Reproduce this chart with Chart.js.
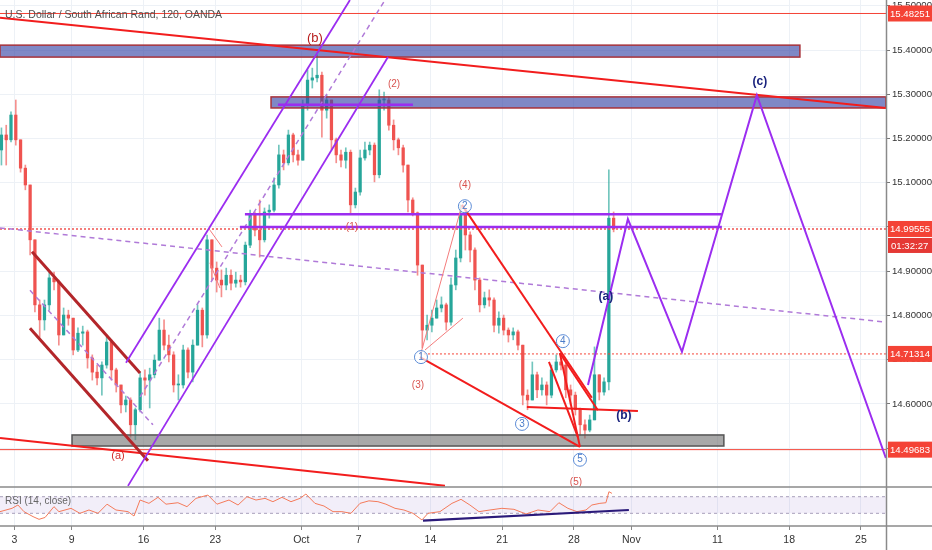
<!DOCTYPE html>
<html>
<head>
<meta charset="utf-8">
<title>USDZAR 120</title>
<script src="https://cdn.jsdelivr.net/npm/chart.js@4.4.0/dist/chart.umd.min.js"></script>
<style>
  html, body { margin: 0; padding: 0; background: #fff; }
  canvas { display: block; }
</style>
</head>
<body>
<canvas id="usdzar" width="932" height="550"></canvas>
<script>
// x axis is in trading days (weekends removed), one candle = 1/3 day
var xTickPos = [1, 5, 10, 15, 21, 25, 30, 35, 40, 44, 50, 55, 60];
var xTickLabels = ['3', '9', '16', '23', 'Oct', '7', '14', '21', '28', 'Nov', '11', '18', '25'];
var priceTicks = [14.5, 14.6, 14.7, 14.8, 14.9, 15.0, 15.1, 15.2, 15.3, 15.4, 15.5];

// candles, open = previous close
var firstOpen = 15.174;
var closes = [15.208, 15.197, 15.253, 15.197, 15.133, 15.095, 14.971, 14.824, 14.790, 14.824,
  14.885, 14.876, 14.756, 14.801, 14.794, 14.722, 14.760, 14.763, 14.704, 14.672,
  14.659, 14.688, 14.740, 14.677, 14.643, 14.598, 14.609, 14.553, 14.587, 14.659,
  14.654, 14.666, 14.699, 14.767, 14.733, 14.711, 14.643, 14.643, 14.722, 14.672,
  14.733, 14.812, 14.756, 14.971, 14.907, 14.880, 14.869, 14.891, 14.873, 14.880,
  14.876, 14.959, 15.027, 14.993, 14.971, 15.034, 15.038, 15.095, 15.163, 15.145,
  15.208, 15.163, 15.151, 15.276, 15.332, 15.337, 15.343, 15.264, 15.287, 15.197,
  15.163, 15.151, 15.169, 15.050, 15.079, 15.156, 15.174, 15.185, 15.118, 15.287,
  15.287, 15.230, 15.197, 15.179, 15.140, 15.061, 15.032, 14.914, 14.767, 14.778,
  14.794, 14.817, 14.824, 14.785, 14.869, 14.930, 15.027, 14.982, 14.948, 14.880,
  14.824, 14.840, 14.835, 14.778, 14.794, 14.767, 14.756, 14.763, 14.733, 14.620,
  14.609, 14.666, 14.632, 14.643, 14.620, 14.677, 14.695, 14.688, 14.632, 14.620,
  14.587, 14.553, 14.541, 14.564, 14.666, 14.627, 14.650, 15.020, 14.99555];
var highs = [15.224, 15.230, 15.260, 15.287, 15.197, 15.140, 15.095, 14.971, 14.835, 14.835,
  14.898, 14.898, 14.880, 14.817, 14.812, 14.794, 14.772, 14.776, 14.767, 14.711,
  14.688, 14.695, 14.751, 14.745, 14.681, 14.643, 14.618, 14.614, 14.591, 14.672,
  14.677, 14.681, 14.711, 14.794, 14.790, 14.756, 14.718, 14.666, 14.733, 14.727,
  14.745, 14.824, 14.817, 14.982, 14.971, 14.921, 14.903, 14.907, 14.903, 14.898,
  14.891, 14.966, 15.038, 15.034, 15.061, 15.043, 15.050, 15.111, 15.185, 15.174,
  15.219, 15.212, 15.174, 15.287, 15.355, 15.359, 15.389, 15.350, 15.298, 15.287,
  15.201, 15.174, 15.179, 15.174, 15.088, 15.174, 15.192, 15.192, 15.190, 15.310,
  15.305, 15.294, 15.242, 15.201, 15.185, 15.140, 15.066, 15.034, 14.914, 14.801,
  14.812, 14.835, 14.842, 14.828, 14.885, 14.948, 15.050, 15.038, 14.989, 14.953,
  14.885, 14.853, 14.858, 14.840, 14.808, 14.801, 14.772, 14.772, 14.767, 14.733,
  14.632, 14.695, 14.672, 14.659, 14.650, 14.688, 14.711, 14.704, 14.695, 14.643,
  14.627, 14.591, 14.564, 14.575, 14.729, 14.666, 14.659, 15.129, 15.034];
var lows = [15.140, 15.140, 15.192, 15.185, 15.124, 15.084, 14.937, 14.808, 14.751, 14.767,
  14.812, 14.858, 14.733, 14.756, 14.778, 14.711, 14.718, 14.733, 14.681, 14.654,
  14.643, 14.620, 14.681, 14.654, 14.627, 14.580, 14.582, 14.525, 14.519, 14.582,
  14.620, 14.591, 14.659, 14.699, 14.722, 14.695, 14.627, 14.609, 14.636, 14.659,
  14.650, 14.733, 14.729, 14.749, 14.880, 14.853, 14.842, 14.858, 14.858, 14.864,
  14.864, 14.869, 14.953, 14.980, 14.932, 14.966, 15.020, 15.034, 15.088, 15.129,
  15.140, 15.147, 15.140, 15.151, 15.264, 15.314, 15.328, 15.203, 15.246, 15.174,
  15.145, 15.136, 15.133, 15.032, 15.043, 15.072, 15.151, 15.163, 15.102, 15.111,
  15.264, 15.219, 15.174, 15.163, 15.124, 15.034, 15.025, 14.891, 14.727, 14.745,
  14.763, 14.794, 14.808, 14.767, 14.778, 14.858, 14.921, 14.948, 14.921, 14.858,
  14.808, 14.817, 14.821, 14.763, 14.760, 14.756, 14.740, 14.745, 14.722, 14.598,
  14.587, 14.609, 14.614, 14.620, 14.598, 14.614, 14.672, 14.677, 14.614, 14.598,
  14.575, 14.530, 14.523, 14.537, 14.564, 14.609, 14.620, 14.632, 14.989];

// RSI (14, close)
var rsiDays = [0, 0.84, 1.25, 1.67, 2.3, 2.72, 3.14, 3.76, 4.11, 4.95,
  5.57, 6.2, 6.83, 7.46, 8.08, 8.92, 9.34, 9.76, 10.38, 11.01,
  11.57, 12.4, 13.03, 13.66, 14.49, 15.12, 15.96, 16.59, 17.21, 17.84,
  18.47, 19.02, 19.65, 20.28, 20.91, 21.32, 21.95, 22.58, 23.21, 23.83,
  24.46, 25.09, 25.71, 26.34, 26.9, 27.53, 28.15, 28.78, 29.41, 29.83,
  30.66, 31.5, 32.13, 32.75, 33.38, 34.15, 34.98, 35.82, 36.66, 37.49,
  38.33, 38.95, 39.58, 40.21, 40.84, 41.25, 41.81, 42.23, 42.44, 42.65];
var rsiValues = [34, 42, 50, 34, 22, 15.5, 20, 46, 34, 42,
  30, 38, 30, 52, 38, 34, 23.5, 62, 54, 68.5,
  52, 55.5, 46, 66, 74, 52, 62, 50, 70, 62,
  66, 58, 68.5, 58, 66, 76.5, 54, 47.6, 34, 34,
  30, 54, 60, 58, 52, 42, 38, 30, 14, 30,
  34, 54, 63.7, 50, 34, 38, 42, 39.6, 28.3, 38,
  34, 55.5, 42, 34, 38, 50, 54, 55.5, 82, 78];
var rsiBand = [30, 70];
var rsiTrend = [[29.48, 12.2], [43.83, 38]];

// drawings on the price pane, points are [day, price]
var trendDown = [[0, 15.473], [61.74, 15.269]];
var trendBase = [[0, 14.523], [31.01, 14.415]];
var zoneTop = [[0, 15.411], [55.75, 15.384]];
var zoneMid = [[18.89, 15.294], [61.74, 15.269]];
var zoneLow = [[5.02, 14.530], [50.45, 14.505]];
var purpleFlat = [
  [[19.37, 15.276], [28.78, 15.276]],
  [[17.07, 15.029], [50.31, 15.029]],
  [[16.72, 15.000], [50.31, 15.000]]
];
var slopeDashed = [[0, 14.998], [61.74, 14.785]];
var channelUp = [
  [[8.78, 14.693], [24.39, 15.513]],
  [[8.92, 14.415], [27.04, 15.384]]
];
var channelUpMid = [[9.76, 14.616], [26.83, 15.513]];
var channelDown = [
  [[2.23, 14.944], [9.76, 14.670]],
  [[2.09, 14.771], [10.31, 14.472]]
];
var channelDownMid = [[2.09, 14.857], [10.66, 14.553]];
var waveThick = [
  [[32.2, 15.050], [41.25, 14.614]],
  [[39.02, 14.715], [40.42, 14.503]],
  [[38.26, 14.695], [40.28, 14.525]],
  [[39.02, 14.715], [41.67, 14.586]],
  [[29.27, 14.706], [40.42, 14.503]],
  [[36.72, 14.593], [44.46, 14.584]]
];
var waveThin = [
  [[29.34, 14.715], [32.2, 15.050]],
  [[29.62, 14.722], [32.26, 14.794]],
  [[14.63, 14.993], [15.47, 14.955]],
  [[14.63, 14.919], [15.33, 14.862]]
];
var projection = [[40.98, 14.643], [43.76, 15.018], [47.53, 14.718], [52.75, 15.298], [61.74, 14.478]];

var redLabels = [['(b)', 21.95, 15.427], ['(2)', 27.46, 15.323], ['(1)', 24.53, 15.0], ['(4)', 32.4, 15.095],
  ['(3)', 29.13, 14.643], ['(5)', 40.14, 14.424], ['(a)', 8.22, 14.483]];
var circleLabels = [['1', 29.34, 14.706], ['2', 32.4, 15.047], ['3', 36.38, 14.555], ['4', 39.23, 14.742], ['5', 40.42, 14.474]];
var navyLabels = [['(a)', 42.23, 14.842], ['(b)', 43.48, 14.573], ['(c)', 52.96, 15.328]];

var lineHigh = 15.48251, lastPrice = 14.99555, pivotPrice = 14.71314, lineLow = 14.49683;
var pivotFrom = 29.27;
var priceTags = [15.48251, 14.99555, 14.71314, 14.49683];
var countdown = '01:32:27';
var title = 'U.S. Dollar / South African Rand, 120, OANDA';

var FONT = "'Liberation Sans', Arial, sans-serif";
var purple = '#9b2df0';

var candleX0 = 0.1, candleStep = 1 / 3;
var opens = closes.map(function (c, i) { return i ? closes[i - 1] : firstOpen; });
var bodies = closes.map(function (c, i) { return { x: candleX0 + i * candleStep, y: [opens[i], c] }; });
var wicks = closes.map(function (c, i) { return { x: candleX0 + i * candleStep, y: [lows[i], highs[i]] }; });
var rsiPoints = rsiDays.map(function (d, i) { return { x: d, y: rsiValues[i] }; });

function candleColor(i, a) {
  return closes[i] >= opens[i] ? 'rgba(38,166,154,' + a + ')' : 'rgba(239,83,80,' + a + ')';
}

function path(c, xs, ys, pts, color, width, dash) {
  c.beginPath();
  pts.forEach(function (p, i) {
    var X = xs.getPixelForValue(p[0]), Y = ys.getPixelForValue(p[1]);
    if (i) c.lineTo(X, Y); else c.moveTo(X, Y);
  });
  c.strokeStyle = color;
  c.lineWidth = width;
  c.setLineDash(dash || []);
  c.stroke();
}

function zone(c, xs, ys, box, fill, edge) {
  var x1 = xs.getPixelForValue(box[0][0]), y1 = ys.getPixelForValue(box[0][1]);
  var x2 = xs.getPixelForValue(box[1][0]), y2 = ys.getPixelForValue(box[1][1]);
  c.fillStyle = fill;
  c.fillRect(x1, y1, x2 - x1, y2 - y1);
  c.strokeStyle = edge;
  c.lineWidth = 1.5;
  c.setLineDash([]);
  c.strokeRect(x1, y1, x2 - x1, y2 - y1);
}

function text(c, xs, ys, t, font, color) {
  c.font = font;
  c.fillStyle = color;
  c.textAlign = 'center';
  c.textBaseline = 'middle';
  c.fillText(t[0], xs.getPixelForValue(t[1]), ys.getPixelForValue(t[2]));
}

var sketch = {
  id: 'sketch',
  beforeDatasetsDraw: function (chart) {
    var c = chart.ctx, a = chart.chartArea, r = chart.scales.yr;
    var y70 = r.getPixelForValue(rsiBand[1]), y30 = r.getPixelForValue(rsiBand[0]);
    c.save();
    c.fillStyle = 'rgba(126, 87, 194, 0.1)';
    c.fillRect(a.left, y70, a.right - a.left, y30 - y70);
    c.strokeStyle = '#a89fba';
    c.lineWidth = 1;
    c.setLineDash([3, 3]);
    [y70, y30].forEach(function (y) {
      c.beginPath(); c.moveTo(a.left, y); c.lineTo(a.right, y); c.stroke();
    });
    c.restore();
  },
  afterDatasetsDraw: function (chart) {
    var c = chart.ctx, a = chart.chartArea, xs = chart.scales.x, ys = chart.scales.y, r = chart.scales.yr;
    var x0 = xs.min, x1 = xs.max;
    c.save();
    c.beginPath();
    c.rect(a.left, ys.top, a.right - a.left, ys.bottom - ys.top);
    c.clip();

    zone(c, xs, ys, zoneTop, 'rgba(60, 75, 168, 0.66)', '#a8323a');
    zone(c, xs, ys, zoneMid, 'rgba(60, 75, 168, 0.66)', '#a8323a');
    zone(c, xs, ys, zoneLow, 'rgba(110, 110, 110, 0.6)', '#555');

    path(c, xs, ys, [[x0, lineHigh], [x1, lineHigh]], '#f44336', 1);
    path(c, xs, ys, [[x0, lineLow], [x1, lineLow]], '#f44336', 1);
    path(c, xs, ys, [[pivotFrom, pivotPrice], [x1, pivotPrice]], '#f44336', 1, [2, 2]);
    path(c, xs, ys, [[x0, lastPrice], [x1, lastPrice]], 'rgba(239, 83, 80, 0.75)', 2, [2, 2]);

    path(c, xs, ys, trendDown, '#f21d1d', 2);
    path(c, xs, ys, trendBase, '#f21d1d', 2);

    channelDown.forEach(function (l) { path(c, xs, ys, l, '#b3262a', 3); });
    path(c, xs, ys, channelDownMid, '#b07ad8', 1.5, [5, 4]);

    channelUp.forEach(function (l) { path(c, xs, ys, l, purple, 1.8); });
    path(c, xs, ys, channelUpMid, '#b07ad8', 1.5, [5, 4]);
    path(c, xs, ys, slopeDashed, '#b07ad8', 1.5, [5, 4]);
    purpleFlat.forEach(function (l) { path(c, xs, ys, l, purple, 2.5); });

    waveThin.forEach(function (l) { path(c, xs, ys, l, '#f47c7c', 1); });
    waveThick.forEach(function (l) { path(c, xs, ys, l, '#f21d1d', 2); });

    path(c, xs, ys, projection, purple, 2);

    redLabels.forEach(function (t, i) {
      if (i === 0) text(c, xs, ys, t, '13px ' + FONT, '#b71c1c');
      else if (i === 6) text(c, xs, ys, t, '11px ' + FONT, '#d32f2f');
      else text(c, xs, ys, t, '10px ' + FONT, '#d9534f');
    });
    circleLabels.forEach(function (t) {
      var X = xs.getPixelForValue(t[1]), Y = ys.getPixelForValue(t[2]);
      c.beginPath();
      c.arc(X, Y, 6.5, 0, Math.PI * 2);
      c.fillStyle = 'rgba(255,255,255,0.7)';
      c.fill();
      c.strokeStyle = '#5b8bd6';
      c.lineWidth = 1;
      c.setLineDash([]);
      c.stroke();
      text(c, xs, ys, t, '10px ' + FONT, '#4a7cc9');
    });
    navyLabels.forEach(function (t) { text(c, xs, ys, t, 'bold 12px ' + FONT, '#1a237e'); });
    c.restore();

    c.save();
    c.beginPath();
    c.rect(a.left, r.top, a.right - a.left, r.bottom - r.top);
    c.clip();
    path(c, xs, r, rsiTrend, '#2b1a7a', 2.2);
    c.restore();
  },
  afterDraw: function (chart) {
    var c = chart.ctx, a = chart.chartArea, ys = chart.scales.y, r = chart.scales.yr;
    var W = chart.width, H = chart.height;
    c.save();
    c.strokeStyle = '#8a8a8a';
    c.lineWidth = 1.5;
    c.setLineDash([]);
    [ys.bottom, r.bottom].forEach(function (y) {
      c.beginPath(); c.moveTo(0, y); c.lineTo(W, y); c.stroke();
    });
    c.beginPath(); c.moveTo(a.right + 0.5, 0); c.lineTo(a.right + 0.5, H); c.stroke();

    c.font = '9.6px ' + FONT;
    c.textAlign = 'left';
    c.textBaseline = 'middle';
    priceTags.forEach(function (p) {
      var Y = ys.getPixelForValue(p);
      c.fillStyle = '#f44336';
      c.fillRect(a.right + 2, Y - 8, W - a.right - 2, 16);
      c.fillStyle = '#fff';
      c.fillText(p.toFixed(5), a.right + 4, Y + 0.5);
    });
    var yl = ys.getPixelForValue(lastPrice);
    c.fillStyle = '#e53935';
    c.fillRect(a.right + 2, yl + 9, W - a.right - 2, 15);
    c.fillStyle = '#fff';
    c.fillText(countdown, a.right + 5, yl + 17);

    c.fillStyle = '#4f4f4f';
    c.font = '10.5px ' + FONT;
    c.fillText(title, a.left + 5, ys.top + 15);
    c.fillStyle = '#666';
    c.font = '10px ' + FONT;
    c.fillText('RSI (14, close)', a.left + 5, r.getPixelForValue(60));
    c.restore();
  }
};

Chart.defaults.font.family = FONT;

var ctx = document.getElementById('usdzar').getContext('2d');
var chart = new Chart(ctx, {
  type: 'bar',
  data: {
    datasets: [
      {
        label: 'wicks',
        data: wicks,
        xAxisID: 'x',
        yAxisID: 'y',
        grouped: false,
        barThickness: 1,
        borderWidth: 0,
        backgroundColor: function (c) { return candleColor(c.dataIndex, 0.65); },
        order: 3
      },
      {
        label: 'USDZAR',
        data: bodies,
        xAxisID: 'x',
        yAxisID: 'y',
        grouped: false,
        barThickness: 2.6,
        minBarLength: 1,
        borderWidth: 0,
        backgroundColor: function (c) { return candleColor(c.dataIndex, 1); },
        order: 2
      },
      {
        type: 'line',
        label: 'RSI',
        data: rsiPoints,
        xAxisID: 'x',
        yAxisID: 'yr',
        borderColor: '#f47a5a',
        borderWidth: 1,
        pointRadius: 0,
        tension: 0,
        order: 1
      }
    ]
  },
  options: {
    responsive: false,
    animation: false,
    devicePixelRatio: 1,
    layout: { padding: 0 },
    plugins: {
      legend: { display: false },
      tooltip: { enabled: false }
    },
    scales: {
      x: {
        type: 'linear',
        offset: false,
        min: 0,
        max: 61.75,
        afterBuildTicks: function (s) { s.ticks = xTickPos.map(function (v) { return { value: v }; }); },
        afterFit: function (s) { s.height = 24; s.paddingLeft = 0; s.paddingRight = 0; },
        ticks: {
          autoSkip: false,
          maxRotation: 0,
          padding: 4,
          color: '#333',
          font: { size: 10.5 },
          callback: function (v) { return xTickLabels[xTickPos.indexOf(v)]; }
        },
        grid: { offset: false, color: '#edf1f6', tickLength: 4, tickColor: '#888' },
        border: { display: false }
      },
      y: {
        type: 'linear',
        position: 'right',
        stack: 'panes',
        stackWeight: 487,
        min: 14.4124,
        max: 15.513,
        afterBuildTicks: function (s) { s.ticks = priceTicks.map(function (v) { return { value: v }; }); },
        afterFit: function (s) { s.width = 46; s.paddingTop = 0; s.paddingBottom = 0; },
        ticks: {
          padding: 2,
          color: '#333',
          font: { size: 9.6 },
          callback: function (v) { return v.toFixed(5); }
        },
        grid: { color: '#edf1f6', tickLength: 4, tickColor: '#777' },
        border: { display: false }
      },
      yr: {
        type: 'linear',
        position: 'right',
        stack: 'panes',
        stackWeight: 39,
        min: -0.6,
        max: 93.4,
        afterFit: function (s) { s.width = 46; s.paddingTop = 0; s.paddingBottom = 0; },
        ticks: { display: false },
        grid: { display: false },
        border: { display: false }
      }
    }
  },
  plugins: [sketch]
});
</script>
</body>
</html>
